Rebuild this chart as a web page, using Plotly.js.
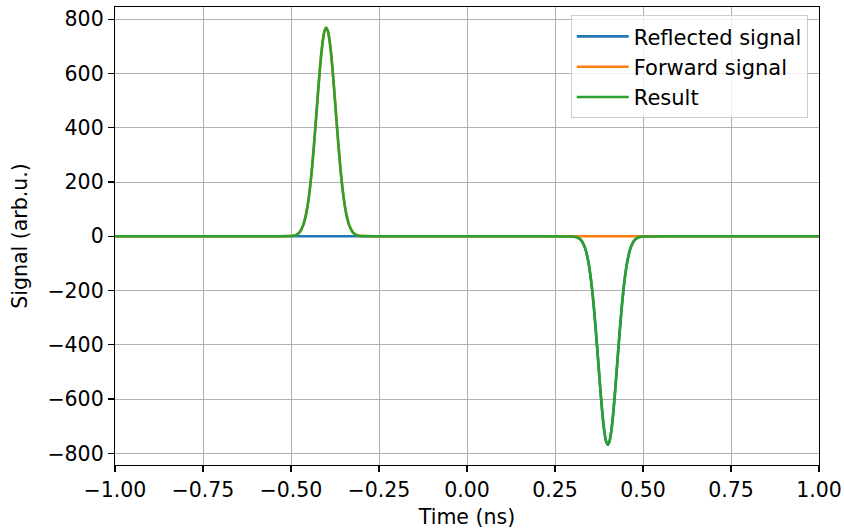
<!DOCTYPE html>
<html>
<head>
<meta charset="utf-8">
<script src="https://cdn.plot.ly/plotly-3.0.1.min.js"></script>
<style>html,body{margin:0;padding:0;background:#fff;}#chart{width:844px;height:529px;}</style>
</head>
<body>
<div id="chart"></div>
<script>
// Time axis (ns)
const time = [
  -1.0, -0.8, -0.6, -0.5,
  -0.495, -0.49, -0.485, -0.48, -0.475, -0.47, -0.465, -0.46, -0.455, -0.45,
  -0.445, -0.44, -0.435, -0.43, -0.425, -0.42, -0.415, -0.41, -0.405, -0.4,
  -0.395, -0.39, -0.385, -0.38, -0.375, -0.37, -0.365, -0.36, -0.355, -0.35,
  -0.345, -0.34, -0.335, -0.33, -0.325, -0.32, -0.315, -0.31, -0.305, -0.3,
  -0.2, 0.0, 0.2, 0.3,
  0.305, 0.31, 0.315, 0.32, 0.325, 0.33, 0.335, 0.34, 0.345, 0.35,
  0.355, 0.36, 0.365, 0.37, 0.375, 0.38, 0.385, 0.39, 0.395, 0.4,
  0.405, 0.41, 0.415, 0.42, 0.425, 0.43, 0.435, 0.44, 0.445, 0.45,
  0.455, 0.46, 0.465, 0.47, 0.475, 0.48, 0.485, 0.49, 0.495, 0.5,
  0.6, 0.8, 1.0
];
// Reflected signal (negative pulse near +0.4 ns)
const reflected = [
  0, 0, 0, 0,
  0, 0, 0, 0, 0, 0, 0, 0, 0, 0,
  0, 0, 0, 0, 0, 0, 0, 0, 0, 0,
  0, 0, 0, 0, 0, 0, 0, 0, 0, 0,
  0, 0, 0, 0, 0, 0, 0, 0, 0, 0,
  0, 0, 0, -0.8,
  -1.6, -3, -5.4, -9.5, -16, -27, -42, -65, -96, -138,
  -191, -256, -332, -414, -500, -584, -658, -717, -755, -768,
  -755, -717, -658, -584, -500, -414, -332, -256, -191, -138,
  -96, -65, -42, -27, -16, -9.5, -5.4, -3, -1.6, -0.8,
  0, 0, 0
];
// Forward signal (positive pulse near -0.4 ns)
const forward = [
  0, 0, 0, 0.8,
  1.6, 3, 5.4, 9.5, 16, 27, 42, 65, 96, 138,
  191, 256, 332, 414, 500, 584, 658, 717, 755, 768,
  755, 717, 658, 584, 500, 414, 332, 256, 191, 138,
  96, 65, 42, 27, 16, 9.5, 5.4, 3, 1.6, 0.8,
  0, 0, 0, 0,
  0, 0, 0, 0, 0, 0, 0, 0, 0, 0,
  0, 0, 0, 0, 0, 0, 0, 0, 0, 0,
  0, 0, 0, 0, 0, 0, 0, 0, 0, 0,
  0, 0, 0, 0, 0, 0, 0, 0, 0, 0,
  0, 0, 0
];
const result = forward.map((v, i) => v + reflected[i]);

const xTicks = [-1, -0.75, -0.5, -0.25, 0, 0.25, 0.5, 0.75, 1];
const xTickLabels = ['\u22121.00', '\u22120.75', '\u22120.50', '\u22120.25', '0.00', '0.25', '0.50', '0.75', '1.00'];
const yTicks = [-800, -600, -400, -200, 0, 200, 400, 600, 800];

const font = 'DejaVu Sans, sans-serif';
const fs = 20.5;
const traces = [
  {x: time, y: reflected, name: 'Reflected signal', legendgroup: 'a', mode: 'lines', line: {color: '#1f77b4', width: 2.6, shape: 'spline', smoothing: 0.6}},
  {x: time, y: forward, name: 'Forward signal', legendgroup: 'b', mode: 'lines', line: {color: '#ff7f0e', width: 2.6, shape: 'spline', smoothing: 0.6}},
  {x: time, y: result, name: 'Result', legendgroup: 'c', mode: 'lines', line: {color: '#2ca02c', width: 2.6, shape: 'spline', smoothing: 0.6}}
];
const axisCommon = {
  showline: true, mirror: true, linecolor: '#000', linewidth: 1.2,
  ticks: 'outside', ticklen: 6, tickwidth: 1.2, tickcolor: '#000',
  showgrid: true, gridcolor: '#b0b0b0', gridwidth: 1, zeroline: false,
  tickfont: {family: font, size: fs, color: '#000'}
};
const layout = {
  width: 844, height: 529,
  margin: {l: 115, r: 25, t: 7, b: 64},
  paper_bgcolor: '#fff', plot_bgcolor: '#fff',
  font: {family: font, color: '#000'},
  showlegend: true,
  xaxis: Object.assign({}, axisCommon, {
    range: [-1, 1], tickvals: xTicks, ticktext: xTickLabels,
    title: {text: 'Time (ns)', font: {family: font, size: fs, color: '#000'}, standoff: 10}
  }),
  yaxis: Object.assign({}, axisCommon, {
    range: [-843, 845], tickvals: yTicks,
    title: {text: 'Signal (arb.u.)', font: {family: font, size: fs, color: '#000'}, standoff: 14}
  }),
  legend: {
    x: 0.984, xanchor: 'right', y: 0.982, yanchor: 'top',
    bgcolor: 'rgba(255,255,255,0.8)', bordercolor: '#cccccc', borderwidth: 1,
    font: {family: font, size: 21, color: '#000'},
    tracegroupgap: 4, traceorder: 'normal', itemwidth: 52
  }
};
Plotly.newPlot('chart', traces, layout, {displayModeBar: false, staticPlot: true});
</script>
</body>
</html>
